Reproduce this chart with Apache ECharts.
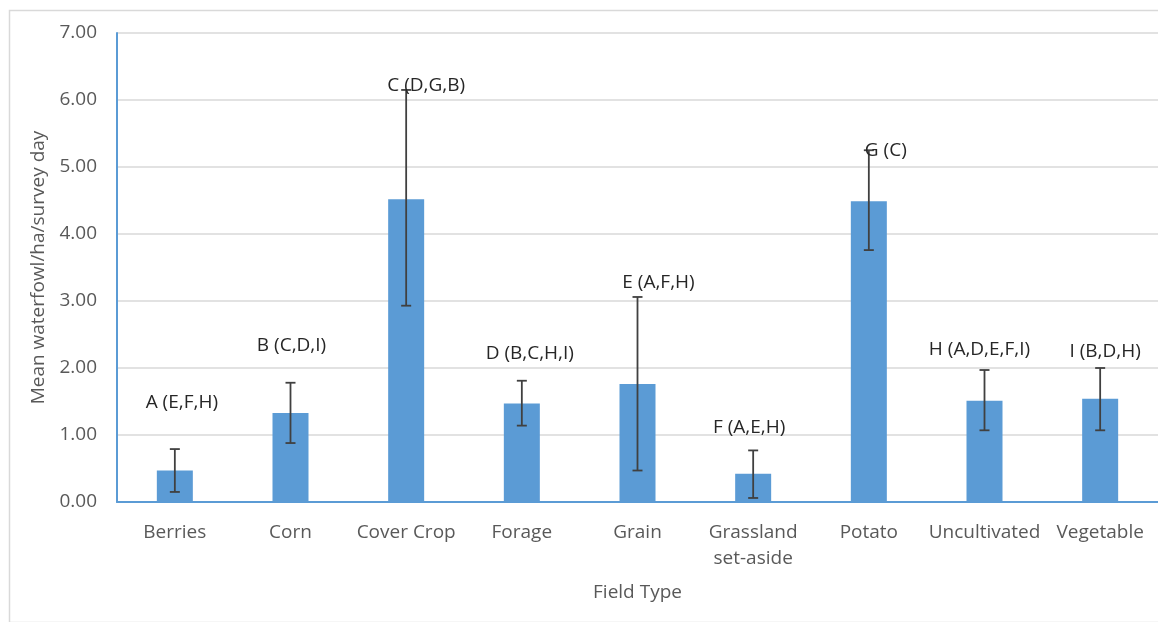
<!DOCTYPE html>
<html>
<head>
<meta charset="utf-8">
<script src="https://cdn.jsdelivr.net/npm/echarts@6/dist/echarts.min.js"></script>
<style>html,body{margin:0;padding:0;background:#fff}#c{width:1158px;height:622px}</style>
</head>
<body>
<div id="c"></div>
<script>
const categories = ['Berries', 'Corn', 'Cover Crop', 'Forage', 'Grain', 'Grassland\nset-aside', 'Potato', 'Uncultivated', 'Vegetable'];
const means = [0.47, 1.33, 4.52, 1.47, 1.76, 0.42, 4.49, 1.51, 1.54];
const errHigh = [0.79, 1.78, 6.15, 1.81, 3.06, 0.77, 5.25, 1.97, 2.00];
const errLow = [0.15, 0.88, 2.93, 1.14, 0.47, 0.06, 3.76, 1.07, 1.07];
const groupLabels = ['A (E,F,H)', 'B (C,D,I)', 'C (D,G,B)', 'D (B,C,H,I)', 'E (A,F,H)', 'F (A,E,H)', 'G (C)', 'H (A,D,E,F,I)', 'I (B,D,H)'];
const labelAt = [1.48, 2.34, 6.22, 2.22, 3.27, 1.11, 5.25, 2.27, 2.25];
const labelDx = [7, 1, 20, 8, 21, -4, 17, -5, 5];
const yTicks = [0, 1, 2, 3, 4, 5, 6, 7];

const FONT = '"Open Sans", "Noto Sans", sans-serif';
const FS = 19;
const chart = echarts.init(document.getElementById('c'), null, {renderer: 'canvas'});
chart.setOption({
  backgroundColor: '#fff',
  animation: false,
  graphic: [{
    type: 'rect', left: 7, top: 8, silent: true,
    shape: {width: 1200, height: 612},
    style: {fill: 'none', stroke: '#d9d9d9', lineWidth: 1.5}
  }],
  grid: {left: 117, right: 0, top: 33, bottom: 120, containLabel: false},
  xAxis: {
    type: 'category',
    data: categories,
    name: 'Field Type',
    nameLocation: 'middle',
    nameGap: 81,
    nameTextStyle: {color: '#595959', fontSize: FS, fontFamily: FONT},
    axisLine: {lineStyle: {color: '#5B9BD5', width: 2}},
    axisTick: {show: false},
    axisLabel: {color: '#595959', fontSize: FS, fontFamily: FONT, margin: 18, lineHeight: 26, interval: 0}
  },
  yAxis: {
    type: 'value',
    min: yTicks[0], max: yTicks[yTicks.length - 1], interval: 1,
    name: 'Mean waterfowl/ha/survey day',
    nameLocation: 'middle',
    nameGap: 64,
    nameTextStyle: {color: '#595959', fontSize: FS, fontFamily: FONT},
    axisLine: {show: true, lineStyle: {color: '#5B9BD5', width: 2}},
    axisTick: {show: false},
    axisLabel: {color: '#595959', fontSize: FS, fontFamily: FONT, margin: 20, formatter: v => v.toFixed(2)},
    splitLine: {lineStyle: {color: '#d9d9d9', width: 1.5}}
  },
  series: [{
    type: 'bar',
    data: means,
    barWidth: 36,
    itemStyle: {color: '#5B9BD5'},
    z: 2
  }, {
    type: 'custom',
    data: categories.map((c, i) => [i, errHigh[i], errLow[i]]),
    z: 3,
    renderItem: function (params, api) {
      const i = api.value(0);
      const hi = api.coord([i, api.value(1)]);
      const lo = api.coord([i, api.value(2)]);
      const hw = 5;
      const st = {stroke: '#404040', lineWidth: 1.8};
      return {type: 'group', children: [
        {type: 'line', shape: {x1: hi[0], y1: hi[1], x2: lo[0], y2: lo[1]}, style: st},
        {type: 'line', shape: {x1: hi[0] - hw, y1: hi[1], x2: hi[0] + hw, y2: hi[1]}, style: st},
        {type: 'line', shape: {x1: lo[0] - hw, y1: lo[1], x2: lo[0] + hw, y2: lo[1]}, style: st}
      ]};
    }
  }, {
    type: 'custom',
    data: categories.map((c, i) => [i, labelAt[i]]),
    z: 4,
    clip: false,
    renderItem: function (params, api) {
      const idx = params.dataIndex;
      const p = api.coord([api.value(0), api.value(1)]);
      return {type: 'text', x: p[0] + labelDx[idx], y: p[1],
        style: {text: groupLabels[idx], align: 'center', verticalAlign: 'middle',
          fill: '#262626', fontSize: FS, fontFamily: FONT}};
    }
  }]
});
</script>
</body>
</html>
